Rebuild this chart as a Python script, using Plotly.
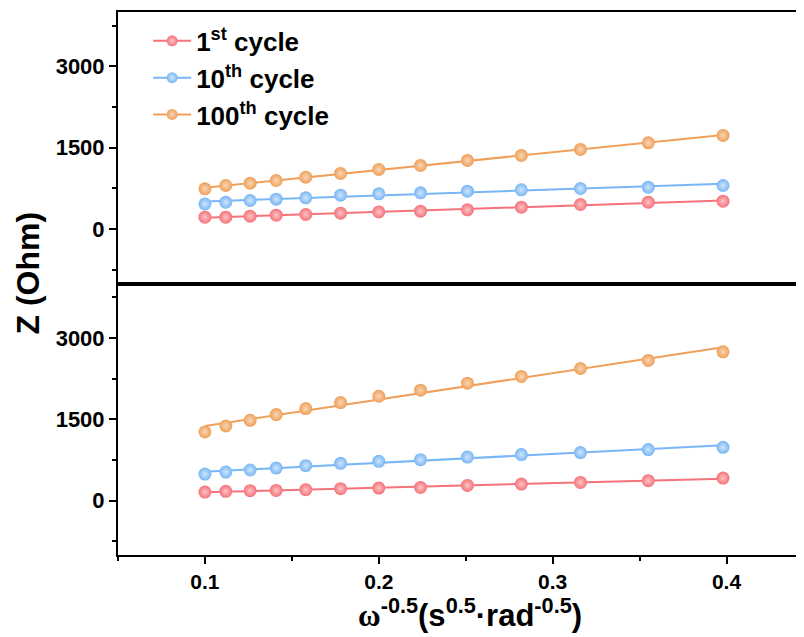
import numpy as np
import plotly.graph_objects as go
from plotly.subplots import make_subplots

# ---- data ----
x_vals = [0.1, 0.112, 0.126, 0.141, 0.158, 0.178, 0.2, 0.224, 0.251, 0.282, 0.316, 0.355, 0.398]

series_names = ["1<sup>st</sup> cycle", "10<sup>th</sup> cycle", "100<sup>th</sup> cycle"]

top_1st = [221, 221, 240, 258, 271, 295, 319, 332, 356, 405, 455, 498, 516]
top_10th = [466, 498, 529, 553, 577, 627, 651, 669, 700, 725, 750, 774, 805]
top_100th = [743, 805, 848, 897, 959, 1027, 1100, 1174, 1266, 1358, 1469, 1591, 1727]

bot_1st = [159, 172, 184, 190, 203, 221, 233, 245, 282, 306, 337, 368, 417]
bot_10th = [491, 528, 565, 601, 645, 688, 725, 756, 804, 849, 886, 941, 983]
bot_100th = [1266, 1376, 1481, 1587, 1697, 1808, 1924, 2035, 2165, 2288, 2435, 2583, 2742]

y_tick_vals = [0, 1500, 3000]
x_tick_vals = [0.1, 0.2, 0.3, 0.4]

colors = ["#F5727A", "#78B6F5", "#EFA05A"]
highlights = ["#FCC4C6", "#CFE5FC", "#F9D6B5"]

FONT = "Liberation Sans, Arial, sans-serif"

fig = make_subplots(rows=2, cols=1, shared_xaxes=True, vertical_spacing=0)

panels = [(1, [top_1st, top_10th, top_100th]), (2, [bot_1st, bot_10th, bot_100th])]
xa = np.array(x_vals)
for row, sets in panels:
    for i, ys in enumerate(sets):
        ya = np.array(ys, dtype=float)
        k, b = np.polyfit(xa, ya, 1)
        xf = np.array([xa[0], xa[-1]])
        fig.add_trace(go.Scatter(x=xf, y=k * xf + b, mode="lines",
                                 line=dict(color=colors[i], width=2),
                                 showlegend=False, hoverinfo="skip"),
                      row=row, col=1)
        fig.add_trace(go.Scatter(x=x_vals, y=ys, mode="markers",
                                 marker=dict(size=13, color=colors[i],
                                             gradient=dict(type="radial", color=highlights[i]),
                                             line=dict(width=0)),
                                 showlegend=False),
                      row=row, col=1)

# legend entries (line + marker)
for i, name in enumerate(series_names):
    fig.add_trace(go.Scatter(x=[None], y=[None], mode="lines+markers", name=name,
                             legendgroup=f"g{i}",
                             line=dict(color=colors[i], width=2),
                             marker=dict(size=11, color=colors[i],
                                         gradient=dict(type="radial", color=highlights[i]))),
                  row=1, col=1)

axis_common = dict(showline=True, linecolor="black", linewidth=2, showgrid=False,
                   zeroline=False)

for r in (1, 2):
    fig.update_yaxes(range=[-1000, 4000], tickvals=y_tick_vals, ticks="outside",
                     ticklen=7, tickwidth=2, tickcolor="black",
                     minor=dict(dtick=750, tick0=0, ticks="outside", ticklen=4,
                                tickwidth=1.5, tickcolor="black"),
                     tickfont=dict(family=FONT, size=22, color="black", weight="bold"),
                     row=r, col=1, **axis_common)

X_RANGE = [0.05, 0.4486]
fig.update_xaxes(range=X_RANGE, mirror=True, row=1, col=1,
                 ticks="", showticklabels=False, **axis_common)
fig.update_xaxes(range=X_RANGE, mirror=True, row=2, col=1,
                 tickvals=x_tick_vals, ticktext=[str(v) for v in x_tick_vals],
                 ticks="outside", ticklen=7, tickwidth=2, tickcolor="black",
                 minor=dict(dtick=0.05, tick0=0.05, ticks="outside", ticklen=4,
                            tickwidth=1.5, tickcolor="black"),
                 tickfont=dict(family=FONT, size=21, color="black", weight="bold"),
                 **axis_common)

fig.add_annotation(text="Z (Ohm)", xref="paper", yref="paper", x=-0.13, y=0.52,
                   textangle=-90, showarrow=False, xanchor="center", yanchor="middle",
                   font=dict(family=FONT, size=32, color="black", weight="bold"))

fig.add_annotation(
    text='<span style="font-family:Liberation Serif">ω</span><sup>-0.5</sup>(s<sup>0.5</sup>·rad<sup>-0.5</sup>)',
    xref="paper", yref="paper", x=0.508, y=-0.106, showarrow=False,
    xanchor="center", yanchor="middle",
    font=dict(family=FONT, size=31, color="black", weight="bold"))

fig.update_layout(
    width=804, height=637, autosize=False,
    margin=dict(l=110, r=1, t=4, b=90),
    paper_bgcolor="white", plot_bgcolor="white",
    legend=dict(x=0.0435, y=0.99, xanchor="left", yanchor="top",
                bgcolor="rgba(0,0,0,0)", tracegroupgap=0, itemwidth=38,
                font=dict(family=FONT, size=26, color="black", weight="bold")),
)

fig.write_html("out.html")
